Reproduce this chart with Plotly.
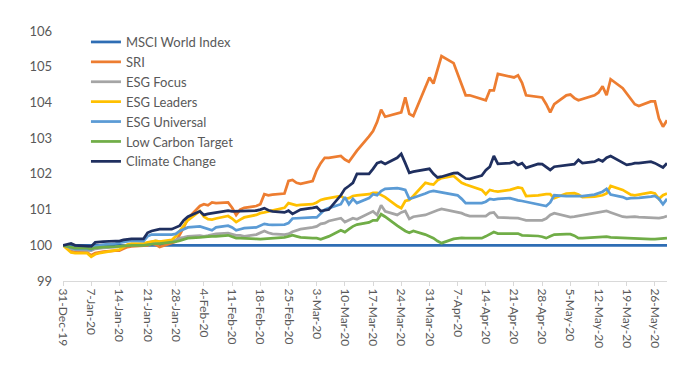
import pandas as pd
import plotly.graph_objects as go

dates = pd.bdate_range("2019-12-31", "2020-05-29")

msci_world = [100.0,
    100.0, 100.0, 100.0,
    100.0, 100.0, 100.0, 100.0, 100.0,
    100.0, 100.0, 100.0, 100.0, 100.0,
    100.0, 100.0, 100.0, 100.0, 100.0,
    100.0, 100.0, 100.0, 100.0, 100.0,
    100.0, 100.0, 100.0, 100.0, 100.0,
    100.0, 100.0, 100.0, 100.0, 100.0,
    100.0, 100.0, 100.0, 100.0, 100.0,
    100.0, 100.0, 100.0, 100.0, 100.0,
    100.0, 100.0, 100.0, 100.0, 100.0,
    100.0, 100.0, 100.0, 100.0, 100.0,
    100.0, 100.0, 100.0, 100.0, 100.0,
    100.0, 100.0, 100.0, 100.0, 100.0,
    100.0, 100.0, 100.0, 100.0, 100.0,
    100.0, 100.0, 100.0, 100.0, 100.0,
    100.0, 100.0, 100.0, 100.0, 100.0,
    100.0, 100.0, 100.0, 100.0, 100.0,
    100.0, 100.0, 100.0, 100.0, 100.0,
    100.0, 100.0, 100.0, 100.0, 100.0,
    100.0, 100.0, 100.0, 100.0, 100.0,
    100.0, 100.0, 100.0, 100.0, 100.0,
    100.0, 100.0, 100.0, 100.0, 100.0]

sri = [100.0,
    99.95, 99.85, 99.8,
    99.8, 99.72, 99.78, 99.8, 99.82,
    99.85, 99.85, 99.9, 99.95, 99.97,
    99.98, 100.0, 100.05, 100.02, 99.95,
    100.05, 100.1, 100.3, 100.5, 100.75,
    101.1, 101.15, 101.12, 101.2, 101.18,
    101.2, 101.05, 100.85, 101.0, 101.05,
    101.1, 101.15, 101.43, 101.4, 101.42,
    101.45, 101.8, 101.83, 101.75, 101.72,
    101.8, 102.1, 102.3, 102.45, 102.45,
    102.5, 102.4, 102.34, 102.5, 102.65,
    103.05, 103.2, 103.45, 103.8, 103.6,
    103.68, 103.72, 104.14, 103.68, 103.62,
    104.4, 104.7, 104.53, 104.95, 105.3,
    105.1, 104.8, 104.45, 104.2, 104.2,
    104.1, 104.06, 104.34, 104.34, 104.8,
    104.72, 104.7, 104.76, 104.55, 104.2,
    104.17, 104.14, 103.95, 103.72, 103.95,
    104.2, 104.22, 104.12, 104.06, 104.1,
    104.2, 104.28, 104.45, 104.2, 104.65,
    104.4, 104.25, 104.1, 103.95, 103.9,
    104.03, 104.03, 103.55, 103.32, 103.5]

esg_focus = [100.0,
    99.95, 99.9, 99.88,
    99.87, 99.85, 99.9, 99.92, 99.93,
    99.95, 99.96, 99.98, 100.0, 100.02,
    100.03, 100.07, 100.1, 100.12, 100.1,
    100.12, 100.15, 100.2, 100.22, 100.25,
    100.27, 100.25, 100.27, 100.3, 100.32,
    100.34, 100.3, 100.28, 100.28, 100.25,
    100.3, 100.35, 100.4, 100.35, 100.32,
    100.3, 100.32, 100.38, 100.42, 100.45,
    100.5, 100.53, 100.6, 100.62, 100.68,
    100.76, 100.65, 100.7, 100.76, 100.73,
    100.9, 100.95, 100.85, 101.12, 100.95,
    100.85, 100.92, 100.96, 100.74, 100.8,
    100.85, 100.9, 100.93, 100.98, 101.02,
    100.95, 100.92, 100.9, 100.85, 100.82,
    100.82, 100.82, 100.9, 100.92, 100.78,
    100.77, 100.78, 100.76, 100.73, 100.7,
    100.7, 100.7, 100.75, 100.85, 100.9,
    100.82, 100.79, 100.8, 100.82, 100.82,
    100.88, 100.9, 100.92, 100.96, 100.92,
    100.8, 100.79, 100.8, 100.8, 100.79,
    100.77, 100.76, 100.76, 100.78, 100.82]

esg_leaders = [100.0,
    99.9, 99.8, 99.78,
    99.78, 99.68, 99.75, 99.78, 99.8,
    99.85, 99.88, 99.95, 100.02, 100.05,
    100.05, 100.08, 100.1, 100.12, 100.1,
    100.15, 100.25, 100.4, 100.55, 100.7,
    100.96, 100.8, 100.73, 100.72, 100.75,
    100.82, 100.75, 100.65, 100.72, 100.78,
    100.85, 100.9, 100.92, 100.95, 100.98,
    101.05, 101.18, 101.15, 101.12, 101.13,
    101.15, 101.2, 101.27, 101.3, 101.32,
    101.38, 101.3, 101.32, 101.38, 101.4,
    101.43, 101.47, 101.47, 101.4, 101.35,
    101.1, 101.04, 101.24, 101.27, 101.38,
    101.75, 101.72, 101.7, 101.82, 101.88,
    101.94, 101.85, 101.75, 101.7, 101.66,
    101.55, 101.43, 101.55, 101.52, 101.5,
    101.55, 101.58, 101.62, 101.6, 101.38,
    101.4, 101.42, 101.43, 101.43, 101.32,
    101.45, 101.45, 101.46, 101.42, 101.35,
    101.36, 101.38, 101.4, 101.45, 101.66,
    101.55, 101.48, 101.42, 101.4, 101.42,
    101.48, 101.45, 101.3, 101.4, 101.45]

esg_universal = [100.0,
    99.97, 99.93, 99.9,
    99.9, 99.88, 99.97, 100.0, 100.02,
    100.05, 100.07, 100.1, 100.12, 100.13,
    100.12, 100.25, 100.3, 100.3, 100.28,
    100.3, 100.32, 100.4, 100.45, 100.5,
    100.53, 100.5, 100.45, 100.42, 100.5,
    100.55, 100.5, 100.42, 100.45, 100.48,
    100.5, 100.55, 100.6, 100.58, 100.57,
    100.58, 100.62, 100.75, 100.76, 100.76,
    100.78, 100.78, 100.9, 101.0, 101.04,
    101.15, 101.35, 101.15, 101.3, 101.18,
    101.32, 101.43, 101.4, 101.52, 101.58,
    101.6, 101.58, 101.55, 101.3, 101.33,
    101.45, 101.5, 101.52, 101.5, 101.47,
    101.42, 101.4, 101.3, 101.18, 101.18,
    101.18, 101.22, 101.3, 101.28, 101.3,
    101.32, 101.28, 101.26, 101.24, 101.22,
    101.15, 101.12, 101.1, 101.2, 101.4,
    101.38, 101.38, 101.37, 101.38, 101.38,
    101.42, 101.45, 101.5, 101.58, 101.42,
    101.35, 101.3, 101.32, 101.32, 101.33,
    101.36, 101.38, 101.3, 101.15, 101.3]

low_carbon = [100.0,
    99.97, 99.93, 99.92,
    99.92, 99.9, 99.93, 99.95, 99.95,
    99.96, 99.97, 99.98, 99.99, 100.0,
    100.0, 100.02, 100.04, 100.05, 100.05,
    100.08, 100.1, 100.13, 100.17, 100.2,
    100.22, 100.22, 100.24, 100.25, 100.25,
    100.28, 100.25, 100.2, 100.2, 100.2,
    100.18, 100.17, 100.18, 100.18, 100.18,
    100.22, 100.25, 100.28, 100.25, 100.22,
    100.2, 100.2, 100.17, 100.2, 100.25,
    100.42, 100.37, 100.45, 100.53, 100.58,
    100.64, 100.7, 100.7, 100.87, 100.8,
    100.55, 100.47, 100.4, 100.35, 100.4,
    100.3, 100.25, 100.2, 100.12, 100.06,
    100.18, 100.2, 100.21, 100.2, 100.2,
    100.2, 100.25, 100.3, 100.37, 100.33,
    100.33, 100.34, 100.33, 100.28, 100.28,
    100.26, 100.24, 100.2, 100.25, 100.3,
    100.31, 100.31, 100.27, 100.2, 100.2,
    100.22, 100.22, 100.24, 100.24, 100.22,
    100.2, 100.2, 100.2, 100.18, 100.18,
    100.17, 100.17, 100.18, 100.2, 100.2]

climate_change = [100.0,
    100.02, 100.05, 100.0,
    99.98, 99.97, 100.08, 100.1, 100.1,
    100.12, 100.12, 100.15, 100.17, 100.18,
    100.18, 100.35, 100.4, 100.42, 100.45,
    100.45, 100.5, 100.55, 100.7, 100.8,
    100.95, 100.85, 100.88, 100.9, 100.92,
    100.97, 100.95, 100.95, 100.95, 100.95,
    100.97, 101.0, 101.04, 100.98, 100.95,
    100.92, 100.97, 100.88, 100.95, 101.0,
    101.05, 101.07, 100.96, 100.98, 101.0,
    101.4, 101.58, 101.66, 101.75, 102.0,
    102.0, 102.14, 102.3, 102.34, 102.28,
    102.45, 102.56, 102.3, 102.03, 102.06,
    102.12, 102.14, 102.0, 101.9, 101.92,
    102.02, 102.03, 101.95, 101.87, 101.86,
    101.95, 102.1, 102.2, 102.5, 102.28,
    102.3, 102.34, 102.25, 102.3, 102.17,
    102.28, 102.27, 102.18, 102.11, 102.2,
    102.23, 102.25, 102.27, 102.39, 102.3,
    102.34, 102.4, 102.35, 102.45, 102.5,
    102.3, 102.25, 102.27, 102.3, 102.3,
    102.34, 102.3, 102.25, 102.18, 102.3]

series_names = ["MSCI World Index", "SRI", "ESG Focus", "ESG Leaders",
                "ESG Universal", "Low Carbon Target", "Climate Change"]
series_values = [msci_world, sri, esg_focus, esg_leaders,
                 esg_universal, low_carbon, climate_change]
colors = ["#2E6DB4", "#ED7D31", "#A5A5A5", "#FFC000",
          "#5B9BD5", "#70AD47", "#1F2F5F"]

y_ticks = [99, 100, 101, 102, 103, 104, 105, 106]

fig = go.Figure()
for name, vals, col in zip(series_names, series_values, colors):
    fig.add_trace(go.Scatter(x=dates, y=vals, name=name, mode="lines",
                             line=dict(color=col, width=2.75)))

fig.update_layout(
    width=692, height=367,
    margin=dict(l=55, r=33, t=23, b=94, autoexpand=False),
    paper_bgcolor="white", plot_bgcolor="white",
    font=dict(family="Lato, Carlito, Calibri, sans-serif", size=12, color="#595959"),
    showlegend=True,
    legend=dict(x=0.038, y=1.016, xanchor="left", yanchor="top",
                bgcolor="rgba(0,0,0,0)", font=dict(size=13, color="#595959"),
                tracegroupgap=0, itemwidth=30),
    xaxis=dict(
        type="date", automargin=False,
        range=[dates[0], dates[-1]],
        tick0="2019-12-31", dtick=7 * 86400000,
        tickformat="%-d-%b-%y", tickangle=90,
        showgrid=False, zeroline=False,
        showline=True, linecolor="#D9D9D9", linewidth=1,
        ticks="outside", ticklen=4, tickcolor="#D9D9D9",
        tickfont=dict(size=12, color="#595959"),
    ),
    yaxis=dict(
        range=[99, 106], tickvals=y_ticks, automargin=False,
        showgrid=False, zeroline=False, showline=False,
        ticks="", ticklabelstandoff=10,
        tickfont=dict(size=13, color="#595959"),
    ),
)

fig.write_html("out.html")
